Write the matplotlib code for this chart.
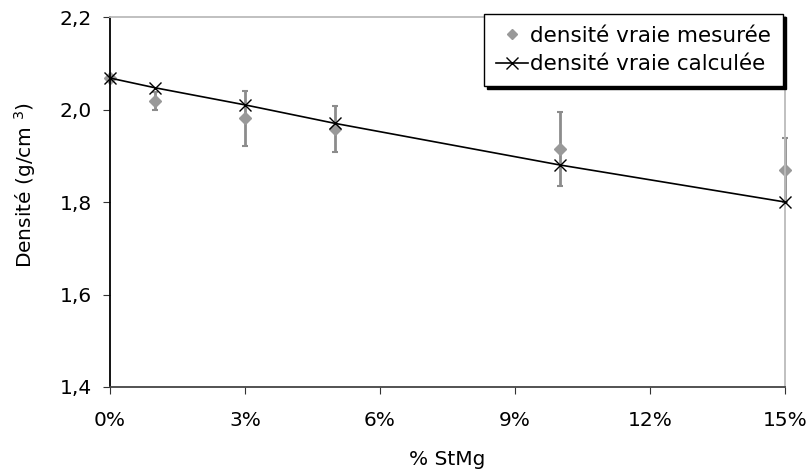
import numpy as np
import matplotlib.pyplot as plt
from matplotlib.ticker import FuncFormatter

# données
stmg = [0, 1, 3, 5, 10, 15]
mesuree = [2.068, 2.018, 1.981, 1.958, 1.915, 1.869]
erreur = [0.0, 0.02, 0.06, 0.05, 0.08, 0.07]
calculee = [2.068, 2.047, 2.010, 1.970, 1.880, 1.800]

plt.rcParams['font.family'] = ['DejaVu Sans']
fs = 14.5

fig = plt.figure(figsize=(8.1, 4.72), dpi=100)
ax = fig.add_axes([110/810, 1-387/472, 675/810, 370/472])

eb = ax.errorbar(stmg, mesuree, yerr=erreur, fmt='none', ecolor='#8c8c8c',
                 elinewidth=2, capsize=2.5, capthick=1.5, zorder=2)
for part in eb.lines[1] + eb.lines[2]:
    part.set_clip_on(False)
ax.plot(stmg, mesuree, ls='none', marker='D', color='#999999', markersize=6.5,
        label='densité vraie mesurée', zorder=2, clip_on=False)
ax.plot(stmg, calculee, color='black', marker='x', markersize=8, lw=1.2,
        mew=1, label='densité vraie calculée', zorder=3, clip_on=False)

ax.set_xlim(0, 15)
ax.set_ylim(1.4, 2.2)
ax.set_xticks([0, 3, 6, 9, 12, 15])
ax.set_yticks([1.4, 1.6, 1.8, 2.0, 2.2])
ax.xaxis.set_major_formatter(FuncFormatter(lambda v, p: '%d%%' % v))
ax.yaxis.set_major_formatter(FuncFormatter(lambda v, p: ('%.1f' % v).replace('.', ',')))
ax.tick_params(labelsize=fs, direction='out', length=5, color='#333333')
ax.tick_params(axis='x', pad=12)
ax.tick_params(axis='y', pad=8)

ax.spines['left'].set_color('black')
ax.spines['bottom'].set_color('#444444')
ax.spines['top'].set_color('#bbbbbb')
ax.spines['right'].set_color('#bbbbbb')
for s in ax.spines.values():
    s.set_linewidth(1.3)

ax.set_xlabel('% StMg', fontsize=fs, labelpad=15)
ax.set_ylabel('Densité (g/cm $^3$)', fontsize=fs)
ax.yaxis.set_label_coords(-0.106, 0.546)

leg = ax.legend(loc='upper right', bbox_to_anchor=(783/810, 1-14/472),
                bbox_transform=fig.transFigure, fontsize=15.5, frameon=True,
                fancybox=False, shadow={'color': 'black', 'alpha': 1},
                borderaxespad=0, handlelength=1.5, handletextpad=0.1,
                borderpad=0.55, labelspacing=0.4, framealpha=1)
leg.get_frame().set_edgecolor('black')
leg.get_frame().set_linewidth(1)
leg.legend_handles[0].set_markersize(5)

fig.savefig('out.png', dpi=100)
